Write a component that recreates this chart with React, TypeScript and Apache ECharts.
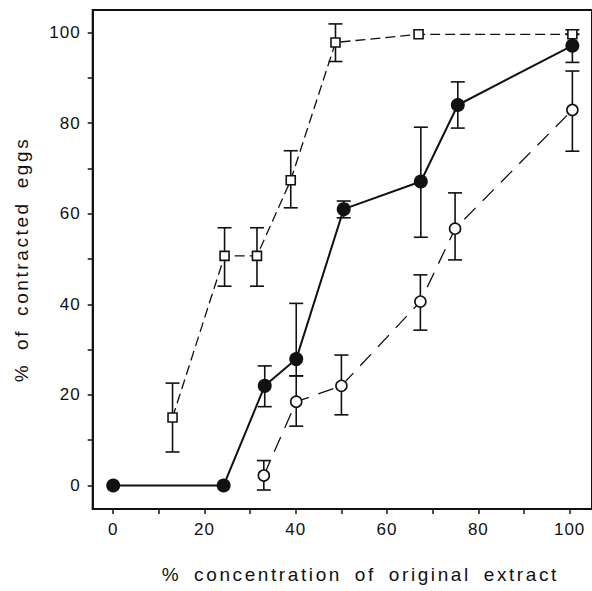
import React, { useEffect, useRef } from "react";
import * as echarts from "echarts";

// Open squares (dashed line)
const sqX = [13.0, 24.4, 31.5, 38.9, 48.7, 66.9, 100.6];
const sqY = [15.0, 50.7, 50.7, 67.4, 97.8, 99.6, 99.6];
const sqLo = [7.4, 44.0, 44.0, 61.3, 93.6, null, 99.6];
const sqHi = [22.6, 56.9, 56.9, 73.9, 101.9, null, 100.6];

// Filled circles (solid line)
const fX = [0, 24.2, 33.2, 40.1, 50.5, 67.4, 75.5, 100.6];
const fY = [0, 0, 22.0, 27.9, 61.0, 67.1, 84.0, 97.1];
const fLo = [null, null, 17.4, 24.2, 59.1, 54.8, 78.9, 93.4];
const fHi = [null, null, 26.4, 40.2, 62.8, 79.1, 89.1, 99.6];

// Open circles (long-dashed line)
const oX = [33.0, 40.1, 50.0, 67.3, 74.9, 100.6];
const oY = [2.2, 18.5, 22.0, 40.6, 56.7, 82.9];
const oLo = [-1.0, 13.1, 15.6, 34.3, 49.8, 73.8];
const oHi = [5.5, 24.2, 28.8, 46.5, 64.6, 91.5];

const xTickValues = [0, 10, 20, 30, 40, 50, 60, 70, 80, 90, 100];
const xLabelValues = [0, 20, 40, 60, 80, 100];
const yTickValues = [0, 10, 20, 30, 40, 50, 60, 70, 80, 90, 100];
const yLabelValues = [0, 20, 40, 60, 80, 100];

const xTitle = "% concentration of original extract";
const yTitle = "% of contracted eggs";

const FONT = "Liberation Sans";

function pts(xs: number[], ys: number[]) {
  return xs.map((x, i) => [x, ys[i]]);
}
function errs(xs: number[], lo: (number | null)[], hi: (number | null)[]) {
  const out: number[][] = [];
  xs.forEach((x, i) => {
    if (lo[i] != null && hi[i] != null) out.push([x, lo[i] as number, hi[i] as number]);
  });
  return out;
}

const errorRender = (params: any, api: any) => {
  const x = api.value(0);
  const p1 = api.coord([x, api.value(1)]);
  const p2 = api.coord([x, api.value(2)]);
  const hw = 7;
  const style = { stroke: "#111", lineWidth: 1.6 };
  return {
    type: "group",
    children: [
      { type: "line", shape: { x1: p1[0], y1: p1[1], x2: p2[0], y2: p2[1] }, style },
      { type: "line", shape: { x1: p1[0] - hw, y1: p1[1], x2: p1[0] + hw, y2: p1[1] }, style },
      { type: "line", shape: { x1: p2[0] - hw, y1: p2[1], x2: p2[0] + hw, y2: p2[1] }, style },
    ],
  };
};

export default function App() {
  const ref = useRef<HTMLDivElement>(null);
  useEffect(() => {
    if (!ref.current) return;
    const chart = echarts.init(ref.current, undefined, { renderer: "svg" });
    const axisCommon = {
      axisLine: { show: true, onZero: false, lineStyle: { color: "#111", width: 2 } },
      splitLine: { show: false },
    };
    chart.setOption({
      animation: false,
      backgroundColor: "#fff",
      grid: {
        left: 92.7,
        right: -2,
        top: 10,
        bottom: 82,
        show: true,
        borderColor: "#111",
        borderWidth: 2,
        containLabel: false,
      },
      xAxis: {
        type: "value",
        min: -4.49,
        max: 104.9,
        ...axisCommon,
        axisTick: { show: true, length: 5, inside: false, customValues: xTickValues, lineStyle: { color: "#111", width: 1.5 } },
        axisLabel: { customValues: xLabelValues, fontFamily: FONT, fontSize: 17, color: "#111", margin: 12 },
        name: xTitle,
        nameLocation: "middle",
        nameGap: 56,
        nameTextStyle: { fontFamily: FONT, fontSize: 19, color: "#111", padding: [0, 0, 0, 36] },
      },
      yAxis: {
        type: "value",
        min: -5.19,
        max: 104.97,
        ...axisCommon,
        axisTick: { show: true, length: 5, inside: false, customValues: yTickValues, lineStyle: { color: "#111", width: 1.5 } },
        axisLabel: { customValues: yLabelValues, fontFamily: FONT, fontSize: 17, color: "#111", margin: 12 },
        name: yTitle,
        nameLocation: "middle",
        nameRotate: 90,
        nameGap: 62,
        nameTextStyle: { fontFamily: FONT, fontSize: 19, color: "#111" },
      },
      series: [
        { type: "custom", renderItem: errorRender, data: errs(sqX, sqLo, sqHi), z: 1, silent: true },
        { type: "custom", renderItem: errorRender, data: errs(fX, fLo, fHi), z: 1, silent: true },
        { type: "custom", renderItem: errorRender, data: errs(oX, oLo, oHi), z: 1, silent: true },
        {
          type: "line",
          data: pts(oX, oY),
          symbol: "circle",
          symbolSize: 11,
          lineStyle: { color: "#111", width: 1.3, type: [16, 10] },
          itemStyle: { color: "#fff", borderColor: "#111", borderWidth: 1.6 },
          z: 3,
        },
        {
          type: "line",
          data: pts(sqX, sqY),
          symbol: "rect",
          symbolSize: 9,
          lineStyle: { color: "#111", width: 1.3, type: [10, 5] },
          itemStyle: { color: "#fff", borderColor: "#111", borderWidth: 1.6 },
          z: 4,
        },
        {
          type: "line",
          data: pts(fX, fY),
          symbol: "circle",
          symbolSize: 14,
          lineStyle: { color: "#111", width: 2 },
          itemStyle: { color: "#111", borderColor: "#111", borderWidth: 0 },
          z: 5,
        },
      ],
    });
    return () => chart.dispose();
  }, []);
  return (
    <>
      <style>{`
        #eggchart text[style*="19px"], #eggchart text[font-size="19px"], #eggchart text[font-size="19"] { letter-spacing: 2.6px; word-spacing: 5px; }
        #eggchart text[style*="17px"], #eggchart text[font-size="17px"], #eggchart text[font-size="17"] { letter-spacing: 1px; }
      `}</style>
      <div
        id="eggchart"
        ref={ref}
        style={{ position: "fixed", left: 0, top: 0, width: 592, height: 591 }}
      />
    </>
  );
}
